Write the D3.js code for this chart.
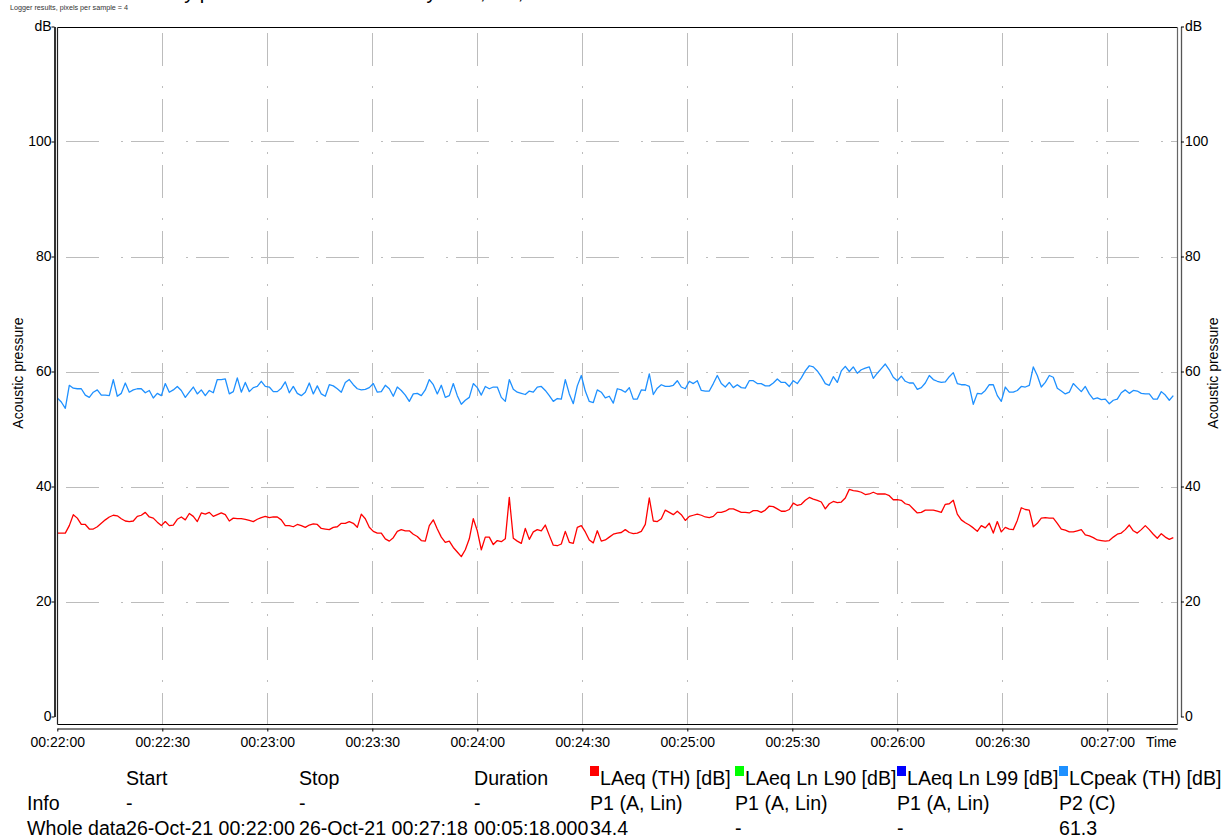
<!DOCTYPE html>
<html>
<head>
<meta charset="utf-8">
<script src="https://cdn.jsdelivr.net/npm/d3@7"></script>
<style>
  html, body { margin: 0; padding: 0; background: #fff; }
  svg { display: block; font-family: "Liberation Sans", Arial, sans-serif; }
</style>
</head>
<body>
<svg id="chart" width="1232" height="840"></svg>
<script>
// ---- data -------------------------------------------------------------
const startTime = new Date(2021, 9, 26, 0, 22, 0);
const endTime = new Date(2021, 9, 26, 0, 27, 20);
const samplePeriodMs = 8000 / 7;          // logger step, 4 px per sample

// LCpeak (TH) [dB], P2 (C)
const lcpeak = [
  55.4, 54.7, 53.6, 57.6, 57.1, 57.0, 57.0, 55.9, 55.5, 56.4,
  56.8, 55.9, 55.9, 55.8, 58.6, 55.7, 56.2, 58.0, 56.4, 56.8,
  57.0, 57.0, 56.3, 56.7, 55.4, 56.2, 55.8, 57.9, 56.4, 56.8,
  57.4, 56.7, 55.5, 56.4, 57.3, 56.1, 56.8, 55.8, 56.7, 56.3,
  58.6, 58.6, 58.7, 56.1, 56.5, 58.9, 56.4, 58.1, 56.5, 57.2,
  57.4, 58.3, 57.4, 57.3, 56.5, 56.5, 57.1, 58.2, 56.3, 57.4,
  56.2, 55.8, 56.4, 58.0, 56.1, 57.5, 56.1, 55.7, 57.7, 57.5,
  57.0, 56.4, 58.1, 58.6, 57.7, 57.0, 56.8, 56.9, 57.2, 57.9,
  56.4, 56.5, 57.6, 57.0, 55.7, 57.3, 56.7, 55.9, 54.8, 56.1,
  56.2, 55.8, 56.8, 58.6, 57.7, 56.1, 57.6, 55.5, 55.8, 57.9,
  55.8, 54.3, 55.0, 55.5, 57.9, 57.2, 55.9, 57.4, 57.0, 57.3,
  57.3, 55.5, 54.8, 58.6, 56.9, 56.4, 56.2, 56.0, 56.6, 56.4,
  57.3, 57.4, 56.7, 55.8, 54.8, 55.3, 55.2, 58.6, 56.1, 54.4,
  57.5, 59.3, 56.6, 54.8, 54.6, 56.8, 56.4, 55.4, 55.7, 54.5,
  57.0, 56.8, 56.4, 57.2, 55.2, 55.2, 56.8, 56.7, 59.6, 56.0,
  57.1, 57.7, 57.4, 57.4, 57.6, 58.4, 57.3, 57.0, 58.3, 57.9,
  58.4, 56.7, 56.6, 56.6, 57.9, 59.3, 57.9, 57.3, 58.1, 57.2,
  57.7, 57.2, 57.1, 58.4, 58.4, 57.9, 57.9, 57.5, 57.5, 58.0,
  58.7, 58.1, 58.1, 57.4, 58.4, 57.9, 58.9, 60.1, 61.0, 60.8,
  60.1, 59.1, 57.9, 57.6, 59.1, 58.1, 60.1, 60.9, 60.0, 60.8,
  59.7, 60.3, 60.6, 60.8, 58.8, 59.7, 60.5, 61.3, 60.3, 59.0,
  58.4, 59.2, 58.3, 58.0, 58.0, 56.9, 57.2, 58.0, 59.3, 58.6,
  58.3, 58.1, 58.2, 59.1, 59.8, 57.9, 57.7, 57.7, 57.4, 54.3,
  56.2, 56.1, 56.7, 57.7, 57.7, 55.8, 54.8, 57.3, 56.4, 56.4,
  56.7, 57.4, 57.3, 57.6, 60.8, 59.3, 57.3, 58.1, 59.3, 59.0,
  57.1, 56.6, 56.1, 56.4, 57.9, 57.2, 56.5, 57.4, 56.1, 55.2,
  55.4, 55.1, 55.2, 54.4, 55.0, 55.2, 56.3, 56.8, 56.2, 56.7,
  56.6, 56.2, 56.1, 56.1, 55.2, 55.2, 56.5, 55.9, 55.0, 55.8
];

// LAeq (TH) [dB], P1 (A, Lin)
const laeq = [
  31.9, 31.9, 31.9, 33.2, 35.1, 34.5, 33.4, 33.4, 32.6, 32.6,
  33.0, 33.6, 34.2, 34.7, 35.0, 34.9, 34.4, 34.0, 33.9, 34.0,
  34.8, 35.0, 35.5, 34.7, 34.5, 33.8, 33.2, 33.9, 33.2, 33.3,
  34.3, 34.7, 34.2, 35.3, 34.8, 33.9, 35.4, 35.2, 35.5, 34.8,
  35.1, 35.4, 35.1, 34.0, 34.5, 34.4, 34.4, 34.3, 34.1, 33.9,
  34.3, 34.6, 34.8, 34.6, 34.7, 34.7, 34.2, 33.2, 33.2, 33.0,
  33.4, 33.2, 32.9, 33.3, 33.5, 33.4, 32.7, 32.6, 32.5, 32.9,
  33.0, 33.6, 33.6, 33.9, 33.6, 32.9, 35.2, 34.4, 32.9, 32.2,
  31.9, 31.9, 30.9, 30.5, 31.1, 32.2, 32.5, 32.3, 32.3, 31.7,
  31.3, 30.6, 30.5, 33.2, 34.2, 32.6, 31.2, 30.3, 30.5, 29.4,
  28.6, 27.8, 29.0, 30.9, 34.4, 32.3, 29.0, 31.2, 31.2, 29.9,
  30.6, 30.4, 30.9, 38.1, 31.0, 30.5, 30.1, 32.7, 30.8, 32.1,
  32.5, 32.3, 33.3, 31.5, 29.8, 29.7, 30.0, 32.2, 30.3, 30.1,
  32.9, 33.2, 32.1, 30.7, 30.2, 32.3, 30.5, 30.7, 31.2, 31.7,
  31.9, 32.0, 32.5, 32.0, 31.8, 31.9, 32.2, 33.4, 38.0, 34.0,
  33.9, 34.4, 35.9, 35.5, 35.1, 35.7, 35.1, 34.1, 34.8, 35.0,
  35.2, 35.0, 34.7, 34.6, 34.8, 35.5, 35.5, 35.7, 36.1, 36.1,
  35.8, 35.5, 35.5, 35.4, 35.8, 35.8, 35.5, 35.9, 36.6, 36.5,
  36.1, 35.7, 35.7, 36.0, 37.1, 36.7, 36.9, 37.6, 38.1, 37.8,
  37.6, 37.3, 36.1, 37.0, 37.4, 37.2, 37.3, 38.0, 39.5, 39.3,
  39.2, 39.0, 38.6, 38.7, 39.0, 38.7, 38.7, 38.7, 38.4, 37.7,
  37.7, 37.6, 37.0, 36.8, 36.1, 35.4, 35.5, 35.9, 35.9, 35.9,
  35.7, 35.5, 36.9, 37.0, 37.6, 35.2, 34.2, 33.7, 33.3, 32.8,
  32.2, 33.2, 32.8, 33.6, 31.9, 33.9, 32.1, 32.9, 32.6, 32.5,
  34.1, 36.3, 36.0, 35.9, 33.0, 33.6, 34.5, 34.6, 34.5, 34.5,
  33.6, 32.6, 32.4, 32.1, 32.1, 32.3, 32.5, 31.6, 31.4, 31.1,
  30.7, 30.6, 30.5, 30.6, 31.2, 31.7, 31.9, 32.5, 33.3, 32.3,
  31.9, 32.5, 33.2, 32.5, 31.7, 31.0, 31.8, 31.2, 30.8, 31.1
];

const yTickValues = [0, 20, 40, 60, 80, 100, 120];
const yGridValues = [20, 40, 60, 80, 100];

const tableHeader = ["", "Start", "Stop", "Duration",
  "LAeq (TH) [dB]", "LAeq Ln L90 [dB]", "LAeq Ln L99 [dB]", "LCpeak (TH) [dB]"];
const legendColors = [null, null, null, null, "#ff0000", "#00ff00", "#0000ff", "#1e90ff"];
const infoRow = ["Info", "-", "-", "-", "P1 (A, Lin)", "P1 (A, Lin)", "P1 (A, Lin)", "P2 (C)"];
const wholeDataRow = ["Whole data", "26-Oct-21 00:22:00", "26-Oct-21 00:27:18", "00:05:18.000",
  "34.4", "-", "-", "61.3"];

// ---- layout -----------------------------------------------------------
const frame = { left: 57.5, right: 1177.5, top: 27.5, bottom: 724.5 };
const colX = [27, 126, 299, 474, 590, 735, 897, 1059];

const svg = d3.select("#chart");
svg.append("rect").attr("width", 1232).attr("height", 840).attr("fill", "#fff");

const x = d3.scaleTime().domain([startTime, endTime]).range([57.3, 1177.3]);
const y = d3.scaleLinear().domain([0, 120]).range([716.5, 26.5]);

// header texts
svg.append("text")
  .attr("x", 86).attr("y", -1)
  .attr("font-size", 20).attr("fill", "#000")
  .text("Time history plot of the full level data by time, 1 s, P1");
svg.append("text")
  .attr("x", 10).attr("y", 10)
  .attr("font-size", 7).attr("fill", "#333")
  .attr("textLength", 118).attr("lengthAdjust", "spacingAndGlyphs")
  .text("Logger results, pixels per sample = 4");

// ---- grid -------------------------------------------------------------
const grid = svg.append("g").attr("stroke", "#bcbcbc").attr("stroke-width", 1).attr("fill", "none");
grid.selectAll("line.h").data(yGridValues).join("line")
  .attr("class", "h")
  .attr("x1", frame.left + 0.5).attr("x2", frame.right - 0.5)
  .attr("y1", d => Math.round(y(d)) + 0.5).attr("y2", d => Math.round(y(d)) + 0.5)
  .attr("stroke-dasharray", "33,22,2,8").attr("stroke-dashoffset", 57);

const timeTicks = x.ticks(d3.timeSecond.every(30));
grid.selectAll("line.v").data(timeTicks.slice(1)).join("line")
  .attr("class", "v")
  .attr("x1", d => Math.round(x(d)) + 0.5).attr("x2", d => Math.round(x(d)) + 0.5)
  .attr("y1", frame.bottom - 0.5).attr("y2", frame.top + 0.5)
  .attr("stroke-dasharray", "33,11,2,20").attr("stroke-dashoffset", 2);

// ---- series -----------------------------------------------------------
const sampleTime = i => new Date(startTime.getTime() + i * samplePeriodMs);
const line = d3.line().x((d, i) => x(sampleTime(i))).y(d => y(d));

svg.append("path").datum(lcpeak)
  .attr("fill", "none").attr("stroke", "#1e90ff").attr("stroke-width", 1.3)
  .attr("stroke-linejoin", "round").attr("d", line);
svg.append("path").datum(laeq)
  .attr("fill", "none").attr("stroke", "#ff0000").attr("stroke-width", 1.3)
  .attr("stroke-linejoin", "round").attr("d", line);

// ---- frame ------------------------------------------------------------
svg.append("line").attr("x1", frame.left).attr("x2", frame.right).attr("y1", frame.top).attr("y2", frame.top)
  .attr("stroke", "#000").attr("stroke-width", 1.2);
svg.append("line").attr("x1", frame.left).attr("x2", frame.right).attr("y1", frame.bottom).attr("y2", frame.bottom)
  .attr("stroke", "#000").attr("stroke-width", 1.2);
svg.append("line").attr("x1", frame.left).attr("x2", frame.left).attr("y1", frame.top).attr("y2", frame.bottom)
  .attr("stroke", "#222").attr("stroke-width", 1.2);
svg.append("line").attr("x1", frame.right).attr("x2", frame.right).attr("y1", frame.top).attr("y2", frame.bottom)
  .attr("stroke", "#666").attr("stroke-width", 1.2);

// ---- axes -------------------------------------------------------------
const yFormat = d => d === 120 ? "dB" : d;

const leftAxis = svg.append("g").attr("transform", "translate(54.5,0)")
  .call(d3.axisLeft(y).tickValues(yTickValues).tickSize(3).tickSizeOuter(0).tickPadding(0).tickFormat(yFormat));
leftAxis.select(".domain").attr("stroke", "#000").attr("stroke-width", 1.6);

const rightAxis = svg.append("g").attr("transform", "translate(1181,0)")
  .call(d3.axisRight(y).tickValues(yTickValues).tickSize(3).tickSizeOuter(0).tickPadding(1).tickFormat(yFormat));
rightAxis.select(".domain").attr("stroke", "#555").attr("stroke-width", 1.3);

const bottomAxis = svg.append("g").attr("transform", "translate(0,728.5)")
  .call(d3.axisBottom(x).ticks(d3.timeSecond.every(30)).tickFormat(d3.timeFormat("%H:%M:%S"))
    .tickSize(3).tickSizeOuter(0).tickPadding(6));
bottomAxis.select(".domain").attr("stroke", "#000").attr("stroke-width", 1.2);

[leftAxis, rightAxis, bottomAxis].forEach(g => {
  g.attr("font-family", null).attr("font-size", null);
  g.selectAll("text").attr("font-size", 14).attr("fill", "#000");
  g.selectAll(".tick line").attr("stroke", "#000");
});

svg.append("text").attr("x", 1146).attr("y", 747).attr("font-size", 14).attr("fill", "#000").text("Time");

svg.append("text").attr("transform", "translate(23,373) rotate(-90)")
  .attr("text-anchor", "middle").attr("font-size", 14).attr("fill", "#000").text("Acoustic pressure");
svg.append("text").attr("transform", "translate(1218,373) rotate(-90)")
  .attr("text-anchor", "middle").attr("font-size", 14).attr("fill", "#000").text("Acoustic pressure");

// ---- summary table ----------------------------------------------------
const table = svg.append("g").attr("font-size", 19.6).attr("fill", "#000");
const rows = [
  { cells: tableHeader, baseline: 785 },
  { cells: infoRow, baseline: 810 },
  { cells: wholeDataRow, baseline: 835 }
];
rows.forEach((row, r) => {
  row.cells.forEach((txt, c) => {
    if (!txt) return;
    const hasKey = r === 0 && legendColors[c];
    table.append("text")
      .attr("x", colX[c] + (hasKey ? 10 : 0))
      .attr("y", row.baseline)
      .text(txt);
  });
});
table.selectAll("rect.key").data(legendColors.map((c, i) => ({ c, i })).filter(d => d.c)).join("rect")
  .attr("class", "key")
  .attr("x", d => colX[d.i]).attr("y", 766)
  .attr("width", 9).attr("height", 10)
  .attr("fill", d => d.c);
</script>
</body>
</html>
